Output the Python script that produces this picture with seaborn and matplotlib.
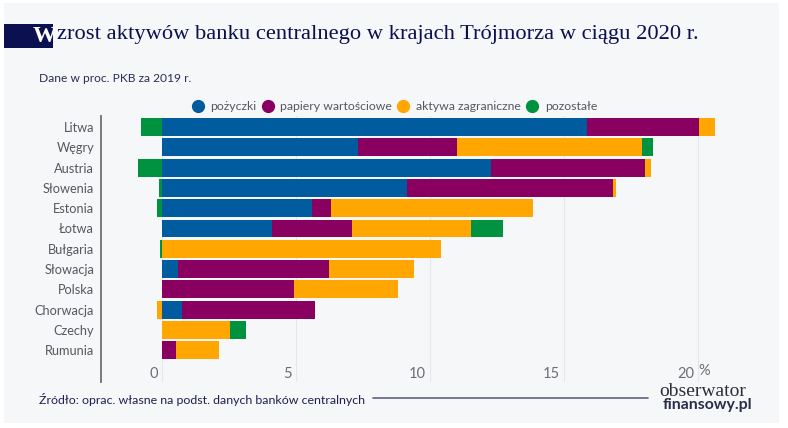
import matplotlib
matplotlib.use('Agg')
import numpy as np
import pandas as pd
import matplotlib.pyplot as plt
import seaborn as sns
from matplotlib.lines import Line2D
from matplotlib.patches import Rectangle
from matplotlib.transforms import ScaledTranslation

countries = ['Litwa', 'Węgry', 'Austria', 'Słowenia', 'Estonia', 'Łotwa', 'Bułgaria',
             'Słowacja', 'Polska', 'Chorwacja', 'Czechy', 'Rumunia']

# dane, w proc. PKB
pozyczki = [15.85, 7.33, 12.26, 9.13, 5.61, 4.12, 0, 0.6, 0, 0.75, 0, 0]
papiery = [4.18, 3.69, 5.76, 7.71, 0.7, 2.98, 0, 5.63, 4.93, 4.96, 0, 0.52]
aktywa = [0.6, 6.9, 0.21, 0.1, 7.53, 4.44, 10.41, 3.17, 3.87, -0.2, 2.52, 1.61]
pozostale = [-0.8, 0.41, -0.9, -0.1, -0.2, 1.18, -0.08, 0, 0, 0, 0.6, 0]

series_names = ['pożyczki', 'papiery wartościowe', 'aktywa zagraniczne', 'pozostałe']
series_colors = ['#005b9f', '#8a0060', '#ffa600', '#00923f']
tick_values = [0, 5, 10, 15, 20]

NAVY = '#0b1150'
BG = '#f6f7f9'
W, H = 788, 428

sns.set_theme(style='white')
plt.rcParams['font.family'] = ['Lato', 'DejaVu Sans']

fig = plt.figure(figsize=(W / 100, H / 100), dpi=100, facecolor='white')
fig.patches.append(Rectangle((4 / W, 1 - 423 / H), 775 / W, 420 / H, transform=fig.transFigure,
                             facecolor=BG, edgecolor='none', zorder=-5))

ax = fig.add_axes([101 / W, 1 - 382 / H, 629 / W, 266 / H])
ax.set_facecolor('none')

# segmenty dodatnie w prawo od zera, ujemne w lewo
pos_left = np.zeros(len(countries))
neg_left = np.zeros(len(countries))
for values, color in zip([pozyczki, papiery, aktywa, pozostale], series_colors):
    vals = np.array(values, dtype=float)
    left = np.where(vals >= 0, pos_left, neg_left)
    df = pd.DataFrame({'kraj': countries, 'wartosc': vals})
    sns.barplot(data=df, x='wartosc', y='kraj', order=countries, orient='h', color=color,
                saturation=1, width=0.885, left=left, linewidth=0, errorbar=None, ax=ax)
    pos_left += np.clip(vals, 0, None)
    neg_left += np.clip(vals, None, 0)

ax.set_xlim(-2.276, 21.19)
ax.set_ylim(12.56, -0.54)
ax.set_xlabel('')
ax.set_ylabel('')

ax.set_xticks(tick_values)
ax.set_xticklabels([str(t) for t in tick_values], ha='right', fontsize=10.5, color='#6b6e76')
ax.tick_params(axis='x', length=0, pad=-10.5)
offset = ScaledTranslation(-4 / 100, 0, fig.dpi_scale_trans)
for label in ax.get_xticklabels():
    label.set_transform(label.get_transform() + offset)
ax.tick_params(axis='y', length=0, pad=5, labelsize=9.2, labelcolor='#55585f')
ax.grid(axis='x', color='#e6e7eb', linewidth=0.8)
ax.set_axisbelow(True)
sns.despine(ax=ax, top=True, right=True, bottom=True)
ax.spines['left'].set_color('#6d6f76')
ax.spines['left'].set_linewidth(1.3)

# legenda
handles = [Line2D([], [], linestyle='none', marker='o', markersize=8.5, color=c) for c in series_colors]
fig.legend(handles, series_names, loc='center', bbox_to_anchor=(395 / W, 1 - 107 / H), ncol=4,
           frameon=False, fontsize=8.8, labelcolor='#55585f', handlelength=0.8, handletextpad=0.65,
           columnspacing=0.5, borderpad=0)

# tytul z granatowym prostokatem
fig.patches.append(Rectangle((4 / W, 1 - 48 / H), 49 / W, 24 / H, transform=fig.transFigure,
                             facecolor=NAVY, edgecolor='none'))
fig.text(33 / W, 1 - 36 / H, 'W', family='Liberation Serif', weight='bold', fontsize=17,
         color='white', ha='left', va='center')
fig.text(57 / W, 1 - 35 / H, 'zrost aktywów banku centralnego w krajach Trójmorza w ciągu 2020 r.',
         family='Liberation Serif', fontsize=16.2, color=NAVY, ha='left', va='center')

fig.text(39 / W, 1 - 79 / H, 'Dane w proc. PKB za 2019 r.', fontsize=8.65, color='#2a2d55', va='center')
fig.text(39 / W, 1 - 399 / H, 'Źródło: oprac. własne na podst. danych banków centralnych',
         fontsize=8.9, color='#1d2050', va='center')
fig.add_artist(Line2D([373 / W, 648 / W], [1 - 398 / H, 1 - 398 / H], color='#5d6180', linewidth=1.2))

fig.text(698 / W, 1 - 371 / H, '%', fontsize=10.5, color='#6b6e76', va='center')

# logo
fig.text(659 / W, 1 - 391 / H, 'obserwator', family='Liberation Serif', fontsize=14,
         color='#2b2d3d', va='center')
fig.text(663 / W, 1 - 405 / H, 'finansowy.pl', weight='bold', fontsize=11.4, color='#2a2d4a', va='center')

fig.savefig('out.png', dpi=100, facecolor='white')
